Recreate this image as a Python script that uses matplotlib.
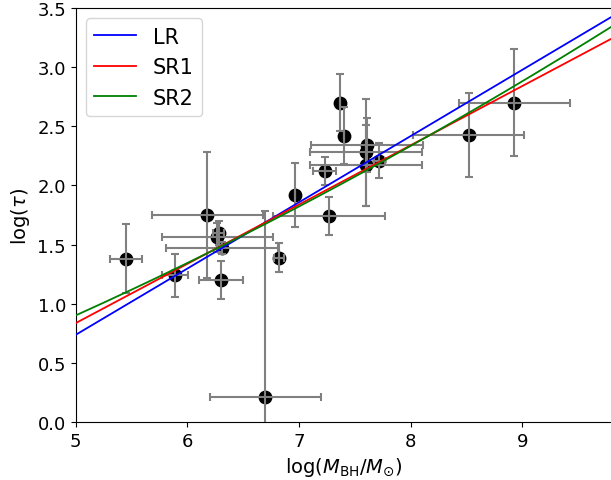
import numpy as np
import matplotlib
matplotlib.use("Agg")
import matplotlib.pyplot as plt

# --- data ---
log_mbh = [5.45, 5.89, 6.18, 6.28, 6.27, 6.31, 6.30, 6.70, 6.82, 6.96,
           7.23, 7.27, 7.37, 7.40, 7.61, 7.60, 7.60, 7.72, 8.52, 8.93]
log_tau = [1.38, 1.24, 1.75, 1.60, 1.56, 1.47, 1.20, 0.21, 1.39, 1.92,
           2.12, 1.74, 2.70, 2.42, 2.34, 2.28, 2.17, 2.21, 2.43, 2.70]
x_err = [0.14, 0.12, 0.50, 0.05, 0.50, 0.50, 0.20, 0.50, 0.045, 0.0,
         0.10, 0.50, 0.0, 0.0, 0.50, 0.50, 0.50, 0.05, 0.50, 0.50]
y_err = [0.29, 0.18, 0.53, 0.10, 0.12, 0.05, 0.16, 1.57, 0.12, 0.27,
         0.12, 0.16, 0.24, 0.24, 0.23, 0.45, 0.34, 0.15, 0.355, 0.45]

# fit lines: y = c0 + c1*(x-5) + c2*(x-5)^2
fit_names = ["LR", "SR1", "SR2"]
fit_colors = ["blue", "red", "green"]
fit_coefs = [[0.737, 0.560, 0.0],
             [0.836, 0.501, 0.0],
             [0.901, 0.426, 0.0172]]

fig = plt.figure(figsize=(6.11, 4.81), dpi=100)
ax = fig.add_axes([0.1239, 0.1206, 0.877, 0.8607])

ax.scatter(log_mbh, log_tau, s=80, color="black", zorder=2)
ax.errorbar(log_mbh, log_tau, xerr=x_err, yerr=y_err, fmt="none",
            ecolor="grey", elinewidth=1.5, capsize=3, capthick=1.5, zorder=3)

xx = np.linspace(5, 9.8, 200)
for name, col, c in zip(fit_names, fit_colors, fit_coefs):
    yy = c[0] + c[1] * (xx - 5) + c[2] * (xx - 5) ** 2
    ax.plot(xx, yy, color=col, lw=1.3, label=name, zorder=4)

ax.set_xlim(5, 9.8)
ax.set_ylim(0, 3.5)
ax.set_xticks([5, 6, 7, 8, 9])
ax.set_yticks(np.arange(0, 3.51, 0.5))
ax.tick_params(labelsize=13)
ax.set_xlabel(r"log($M_{\rm BH}/M_{\odot}$)", fontsize=14)
ax.set_ylabel(r"log($\tau$)", fontsize=14)
ax.legend(loc="upper left", fontsize=15)

fig.savefig("out.png", dpi=100)
